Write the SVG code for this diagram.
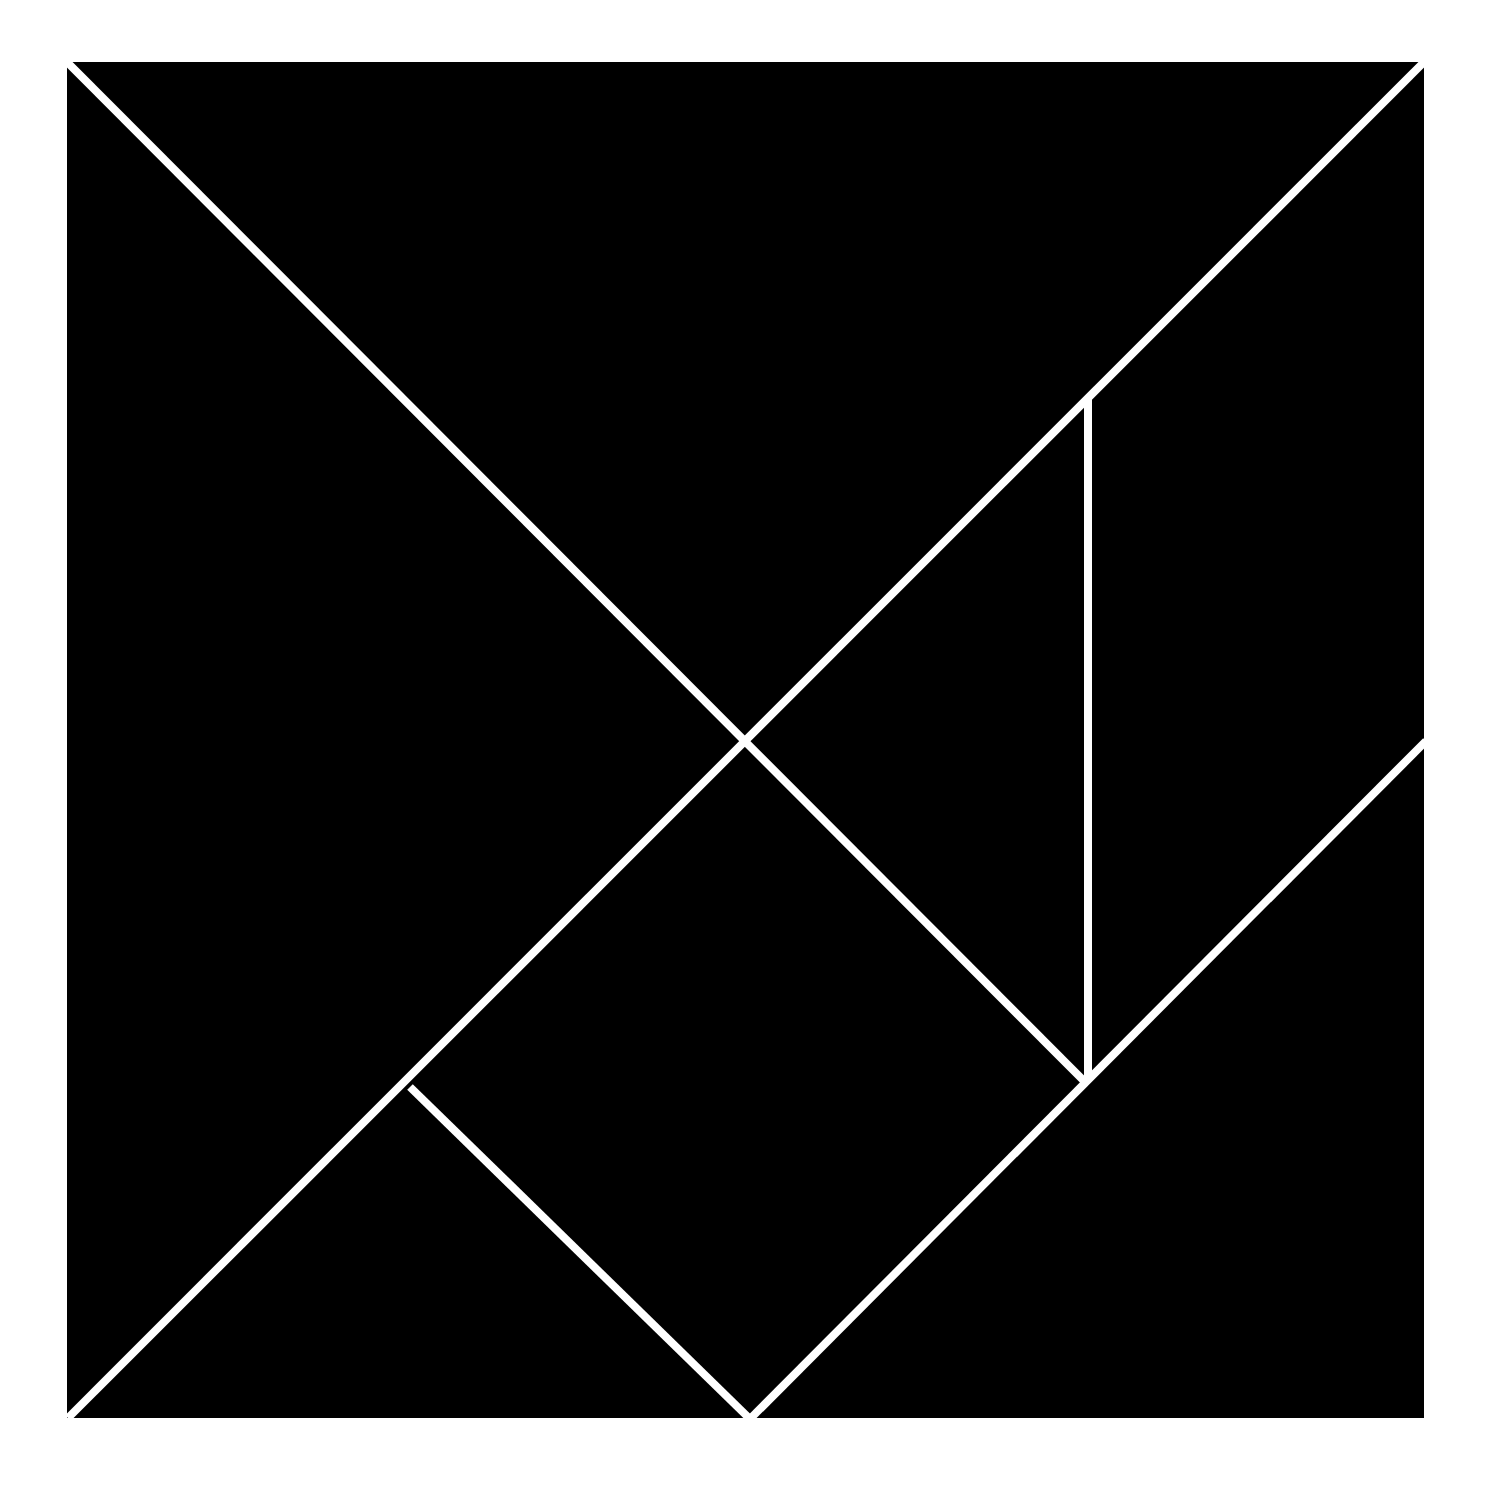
<svg xmlns="http://www.w3.org/2000/svg" width="1500" height="1500" viewBox="0 0 1500 1500">
<style>
.cut{stroke:#ffffff;stroke-width:8;fill:none;stroke-linecap:butt}
</style>
<rect width="1500" height="1500" fill="#ffffff"/>
<g id="board">
<rect x="67" y="62" width="1357" height="1356" fill="#000000"/>
</g>
<g id="cuts">
<line class="cut" x1="66" y1="61" x2="1087" y2="1084"/>
<line class="cut" x1="1424" y1="62" x2="68" y2="1418"/>
<line class="cut" x1="1088" y1="398" x2="1088" y2="1080"/>
<line class="cut" x1="1426" y1="741" x2="749" y2="1420"/>
<line class="cut" x1="410" y1="1087" x2="751" y2="1420"/>
</g>
</svg>
